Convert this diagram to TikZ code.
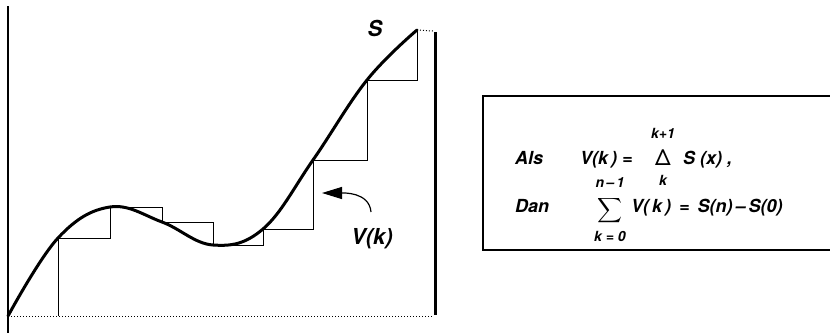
\documentclass[tikz,border=0pt]{standalone}
\usepackage{amsmath}
\usepackage{fontspec}
\setmainfont{TeX Gyre Heros}
\usetikzlibrary{arrows.meta}
\begin{document}
\begin{tikzpicture}[x=1pt,y=-1pt,
  lbl/.style={font=\fontsize{18}{20}\selectfont\bfseries\itshape, inner sep=0pt},
  lim/.style={font=\fontsize{14}{16}\selectfont\bfseries\itshape, inner sep=0pt},
  big/.style={font=\fontsize{22}{24}\selectfont\bfseries\itshape, inner sep=0pt},
  thin/.style={line width=1pt},
  curve/.style={line width=3pt, line cap=round}]
\useasboundingbox (0,0) rectangle (830,333);
% axes
\draw[line width=1.2pt] (8,6) -- (8,333);
\draw[line width=1pt, dotted] (8,316) -- (433,316);
\draw[line width=3pt] (435,32) -- (435,315);
% staircase
\draw[thin] (58,316) -- (58,238) -| (110,207) -| (162,222) -| (213,245) -| (263,229) -| (313,160) -| (367,80) -| (417,30);
% curve S
\draw[curve] plot[smooth, tension=0.65] coordinates {(8,316) (58,238) (110,207) (162,222) (213,245) (263,229) (313,160) (367,80) (417,30)};
\coordinate (send) at (417,30);
\coordinate (rtop) at (433,31);
\draw[line width=1pt, dotted] (send) -- (rtop);
% labels
\node[big] (S) at (375,28) {S};
\node[big] (Vk) at (372,239) {V(k)};
\coordinate (atail) at (371,212);
\coordinate (ahead) at (322,193);
\draw[line width=1.2pt, -{Triangle[length=20pt,width=12pt]}] (atail) to[out=95,in=0] (ahead);
% box
\draw[line width=1.5pt] (483,96) rectangle (834,250);
\node[lbl, anchor=base west] (als) at (515,164) {Als};
\node[lbl, anchor=base west] (v1) at (580,164) {V(k\,) =};
\node[font=\fontsize{22}{24}\selectfont, inner sep=0pt, anchor=base] (delta) at (663,165) {Δ};
\node[lim] (kp1) at (663,133) {k+1};
\node[lim] (k1) at (663,180) {k};
\node[lbl, anchor=base west] (sx) at (683,164) {S (x) ,};
\node[lbl, anchor=base west] (dan) at (515,212) {Dan};
\node[lim] (nm1) at (610,183) {n\,–\,1};
\node[inner sep=0pt, font=\fontsize{19}{21}\selectfont] (sum) at (610,211) {$\displaystyle\sum$};
\node[lim] (k0) at (610,236) {k = 0};
\node[lbl, anchor=base west] (rest) at (631,212) {V(\,k\,) \,=\, S(n)\,–\,S(0)};
\end{tikzpicture}
\end{document}
